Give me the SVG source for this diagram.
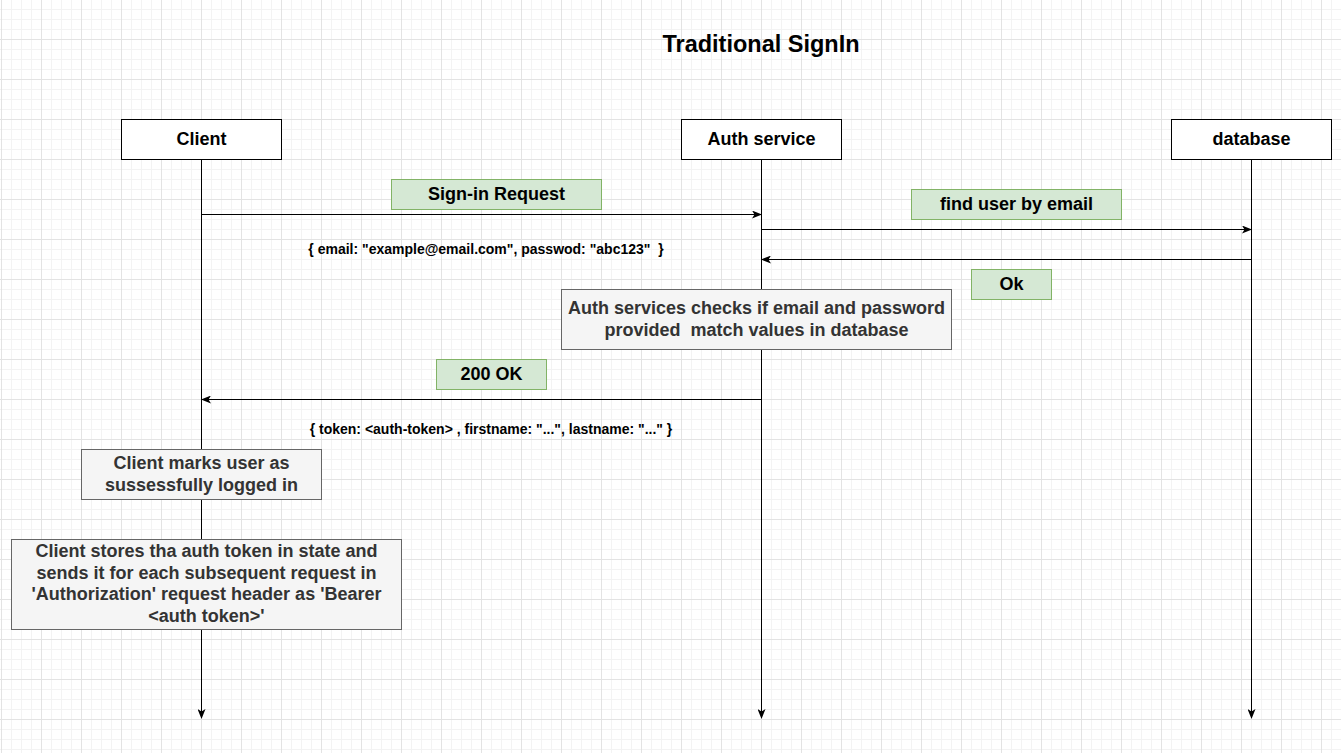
<svg xmlns="http://www.w3.org/2000/svg" width="1341" height="753" viewBox="0 0 1341 753">
<style>
text{font-family:"Liberation Sans",Arial,sans-serif;font-weight:bold;text-anchor:middle;white-space:pre}
.hd{fill:#fff;stroke:#000;stroke-width:1}
.lbl{fill:#d5e8d4;stroke:#82b366;stroke-width:1}
.note{fill:#f5f5f5;stroke:#666;stroke-width:1}
.t18{font-size:18px;fill:#000}
.tn{font-size:18px;fill:#333}
.t13{font-size:14px;fill:#000}
.ln{stroke:#000;stroke-width:1;fill:none;marker-end:url(#ah)}
</style>
<defs>
<pattern id="grid" width="40" height="40" x="1" y="-1" patternUnits="userSpaceOnUse">
<path d="M10.5 0V40M20.5 0V40M30.5 0V40M0 10.5H40M0 20.5H40M0 30.5H40" stroke="#f3f3f3" stroke-width="1"/>
<path d="M0.5 0V40M0 0.5H40" stroke="#e3e3e3" stroke-width="1"/>
</pattern>
<marker id="ah" markerWidth="10" markerHeight="8" refX="9" refY="4" orient="auto" markerUnits="userSpaceOnUse">
<path d="M0,0 L10,4 L0,8 L2.5,4 Z" fill="#000"/>
</marker>
</defs>
<rect width="1341" height="753" fill="#fff"/>
<rect width="1341" height="753" fill="url(#grid)"/>
<text x="761" y="52" style="font-size:23.5px;fill:#000">Traditional SignIn</text>
<g id="connectors">
<line class="ln" x1="201.5" y1="159" x2="201.5" y2="718"/>
<line class="ln" x1="761.5" y1="159" x2="761.5" y2="718"/>
<line class="ln" x1="1251.5" y1="159" x2="1251.5" y2="718"/>
<line class="ln" x1="201.5" y1="214.5" x2="761" y2="214.5"/>
<line class="ln" x1="761.5" y1="229.5" x2="1251" y2="229.5"/>
<line class="ln" x1="1251.5" y1="259.5" x2="762" y2="259.5"/>
<line class="ln" x1="761.5" y1="399.5" x2="202" y2="399.5"/>
</g>
<g id="client"><rect class="hd" x="121.5" y="119.5" width="160" height="40"/><text class="t18" x="201.5" y="144.5">Client</text></g>
<g id="auth"><rect class="hd" x="681.5" y="119.5" width="160" height="40"/><text class="t18" x="761.5" y="144.5">Auth service</text></g>
<g id="database"><rect class="hd" x="1171.5" y="119.5" width="160" height="40"/><text class="t18" x="1251.5" y="144.5">database</text></g>
<g id="signin-label"><rect class="lbl" x="391.5" y="179.5" width="210" height="30"/><text class="t18" x="496.5" y="199.5">Sign-in Request</text></g>
<g id="email-payload"><text class="t13" x="486" y="254" xml:space="preserve">{ email: "example@email.com", passwod: "abc123"  }</text></g>
<g id="find-label"><rect class="lbl" x="911.5" y="189.5" width="210" height="30"/><text class="t18" x="1016.5" y="209.5">find user by email</text></g>
<g id="ok-label"><rect class="lbl" x="971.5" y="269.5" width="80" height="30"/><text class="t18" x="1011.5" y="289.5">Ok</text></g>
<g id="auth-check"><rect class="note" x="561.5" y="289.5" width="390" height="60"/><text class="tn" x="756.5" y="313.5">Auth services checks if email and password</text><text class="tn" x="756.5" y="335.5" xml:space="preserve">provided  match values in database</text></g>
<g id="ok200-label"><rect class="lbl" x="436.5" y="359.5" width="110" height="30"/><text class="t18" x="491.5" y="379.5">200 OK</text></g>
<g id="token-payload"><text class="t13" x="491" y="434">{ token: &lt;auth-token&gt; , firstname: "...", lastname: "..." }</text></g>
<g id="client-marks"><rect class="note" x="81.5" y="449.5" width="240" height="50"/><text class="tn" x="201.5" y="468.5">Client marks user as</text><text class="tn" x="201.5" y="490.5">sussessfully logged in</text></g>
<g id="client-stores"><rect class="note" x="11.5" y="539.5" width="390" height="90"/><text class="tn" x="206.5" y="557">Client stores tha auth token in state and</text><text class="tn" x="206.5" y="578.5">sends it for each subsequent request in</text><text class="tn" x="206.5" y="600">'Authorization' request header as 'Bearer</text><text class="tn" x="206.5" y="621.5">&lt;auth token&gt;'</text></g>
</svg>
